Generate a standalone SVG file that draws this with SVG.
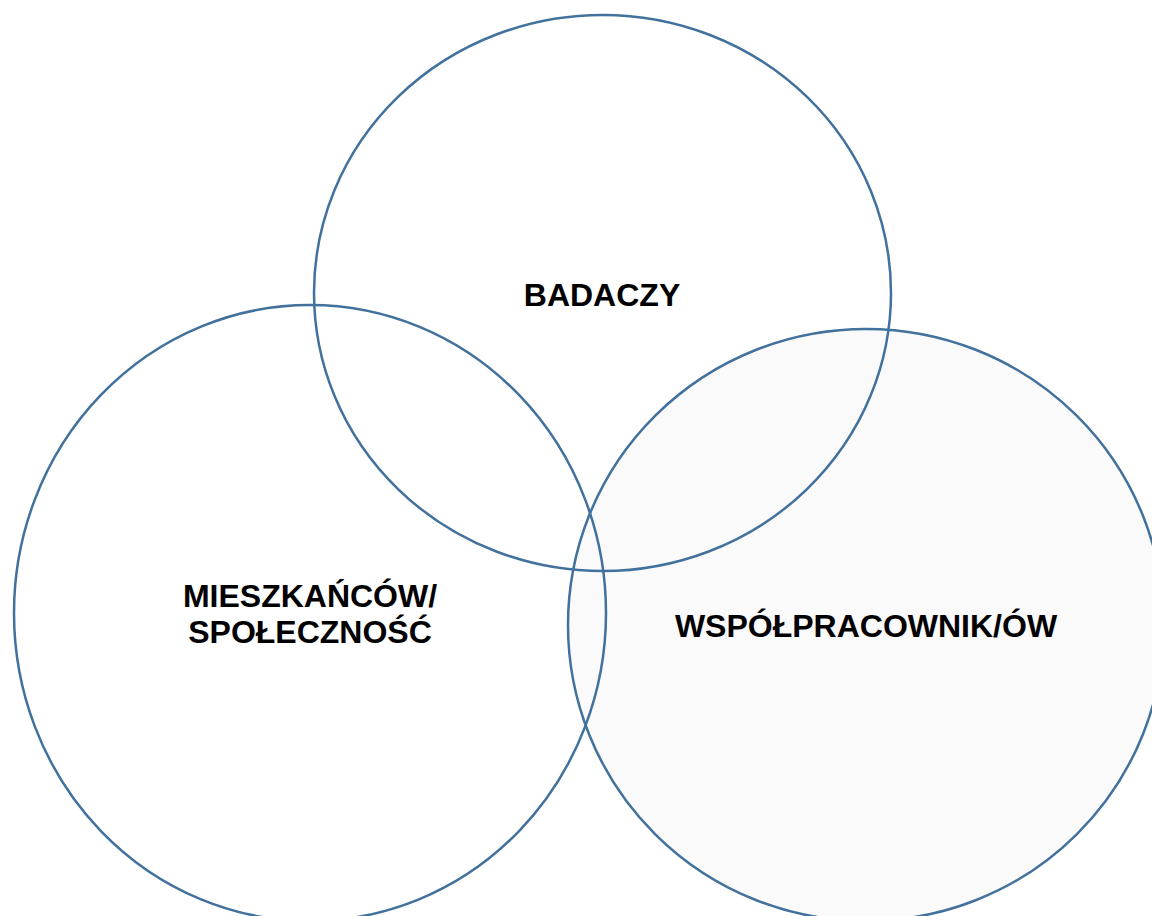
<svg xmlns="http://www.w3.org/2000/svg" width="1152" height="916" viewBox="0 0 1152 916">
<style>
.c{stroke:#41719c;stroke-width:2.5;fill:none}
.t{font-family:"Liberation Sans",Arial,sans-serif;font-weight:bold;font-size:32px;fill:#000;text-anchor:middle}
</style>
<rect width="1152" height="916" fill="#ffffff"/>
<g id="wspolpracownikow">
<ellipse cx="866" cy="625" rx="298" ry="296" class="c" style="fill:#fafafa"/>
<text x="866" y="637" class="t">WSPÓŁPRACOWNIK/ÓW</text>
</g>
<g id="mieszkancow">
<ellipse cx="310" cy="613" rx="296" ry="308" class="c"/>
<text x="310" y="607" class="t">MIESZKAŃCÓW/</text>
<text x="310" y="643" class="t">SPOŁECZNOŚĆ</text>
</g>
<g id="badaczy">
<ellipse cx="602.5" cy="293" rx="288.5" ry="278" class="c"/>
<text x="602" y="306" class="t">BADACZY</text>
</g>
<g id="connectors"></g>
</svg>
